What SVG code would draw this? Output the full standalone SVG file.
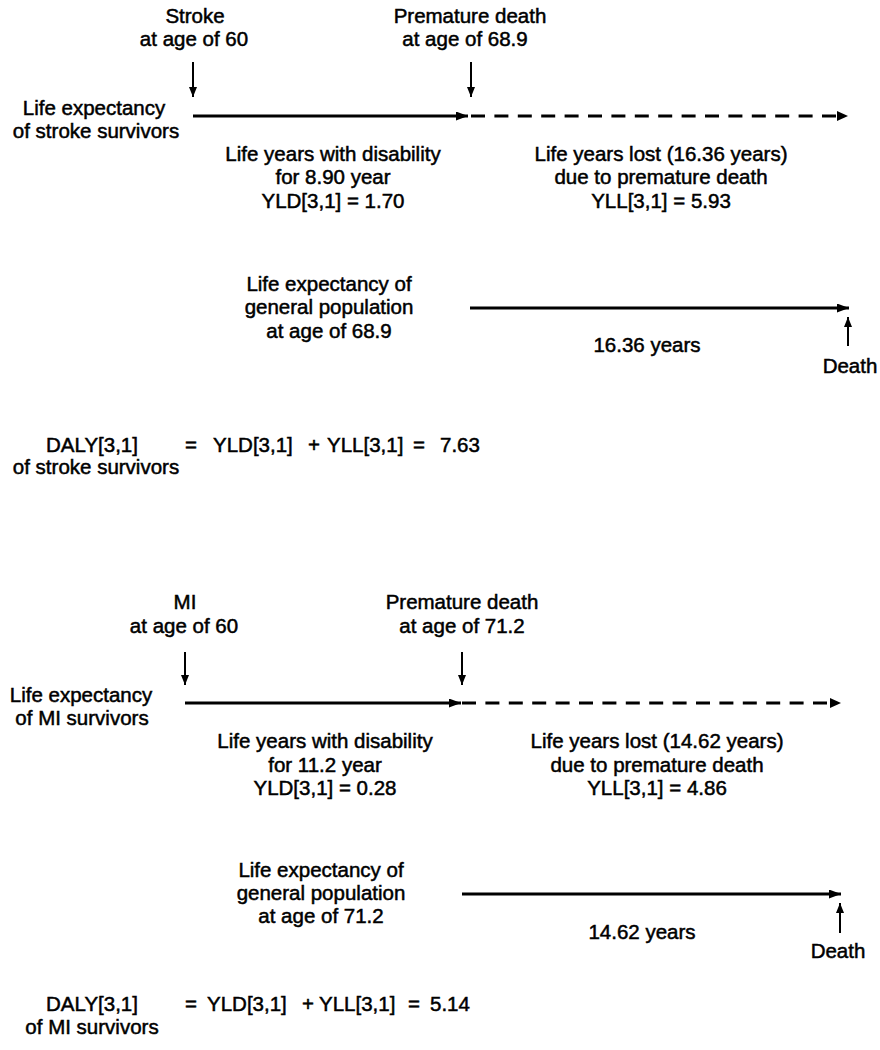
<svg xmlns="http://www.w3.org/2000/svg" width="880" height="1050" viewBox="0 0 880 1050">
  <defs>
    <style>
      text { font-family: "Liberation Sans", Arial, sans-serif; font-size: 20.5px; fill: #000; stroke: #000; stroke-width: 0.5px; }
      .c { text-anchor: middle; }
      .s { text-anchor: start; }
      .solid { stroke: #000; stroke-width: 3; fill: none; }
      .thin { stroke: #000; stroke-width: 2; fill: none; }
      .dash { stroke: #000; stroke-width: 3; fill: none; stroke-dasharray: 14 9.4; }
    </style>
    <marker id="head" markerUnits="userSpaceOnUse" markerWidth="13" markerHeight="10" refX="12" refY="4.5" orient="auto">
      <path d="M0,0 L12,4.5 L0,9 z" fill="#000"/>
    </marker>
    <marker id="headSmall" markerUnits="userSpaceOnUse" markerWidth="11" markerHeight="9" refX="10" refY="4" orient="auto">
      <path d="M0,0 L10,4 L0,8 z" fill="#000"/>
    </marker>
    <marker id="dashHead" markerUnits="userSpaceOnUse" markerWidth="12" markerHeight="11" refX="0" refY="5" orient="auto">
      <path d="M0,0 L11,5 L0,10 z" fill="#000"/>
    </marker>
  </defs>
  <rect width="880" height="1050" fill="#fff"/>

  <g id="connectors">
    <!-- top section -->
    <line class="thin" x1="193" y1="62" x2="193" y2="97" marker-end="url(#headSmall)"/>
    <line class="thin" x1="471" y1="62" x2="471" y2="97" marker-end="url(#headSmall)"/>
    <line class="solid" x1="193" y1="116" x2="468" y2="116" marker-end="url(#head)"/>
    <line class="dash" x1="471" y1="116" x2="837" y2="116" marker-end="url(#dashHead)"/>
    <line class="solid" x1="470" y1="308" x2="849" y2="308" marker-end="url(#head)"/>
    <line class="thin" x1="848" y1="346" x2="848" y2="317" marker-end="url(#headSmall)"/>
    <!-- bottom section -->
    <line class="thin" x1="185" y1="652" x2="185" y2="685" marker-end="url(#headSmall)"/>
    <line class="thin" x1="462" y1="652" x2="462" y2="685" marker-end="url(#headSmall)"/>
    <line class="solid" x1="185" y1="703" x2="461" y2="703" marker-end="url(#head)"/>
    <line class="dash" x1="462" y1="703" x2="830" y2="703" marker-end="url(#dashHead)"/>
    <line class="solid" x1="462" y1="894" x2="841" y2="894" marker-end="url(#head)"/>
    <line class="thin" x1="840" y1="933" x2="840" y2="903" marker-end="url(#headSmall)"/>
  </g>

  <!-- Top section: stroke -->
  <g id="stroke-event">
    <text class="c" x="195" y="23">Stroke</text>
    <text class="c" x="194" y="46">at age of 60</text>
  </g>
  <g id="premature-death-stroke">
    <text class="c" x="470" y="23">Premature death</text>
    <text class="c" x="465" y="46">at age of 68.9</text>
  </g>
  <g id="stroke-survivors-label">
    <text class="c" x="94" y="115">Life expectancy</text>
    <text class="c" x="96" y="138">of stroke survivors</text>
  </g>
  <g id="yld-stroke">
    <text class="c" x="333" y="161">Life years with disability</text>
    <text class="c" x="333" y="184">for 8.90 year</text>
    <text class="c" x="333" y="208">YLD[3,1] = 1.70</text>
  </g>
  <g id="yll-stroke">
    <text class="c" x="661" y="161">Life years lost (16.36 years)</text>
    <text class="c" x="661" y="184">due to premature death</text>
    <text class="c" x="661" y="208">YLL[3,1] = 5.93</text>
  </g>
  <g id="general-population-stroke">
    <text class="c" x="329" y="291">Life expectancy of</text>
    <text class="c" x="329" y="314">general population</text>
    <text class="c" x="329" y="338">at age of 68.9</text>
  </g>
  <g id="years-stroke">
    <text class="c" x="647" y="352">16.36 years</text>
  </g>
  <g id="death-stroke">
    <text class="c" x="850" y="373">Death</text>
  </g>
  <g id="daly-stroke">
    <text class="c" x="92" y="452">DALY[3,1]</text>
    <text class="c" x="96" y="474">of stroke survivors</text>
    <text class="c" x="191" y="452">=</text>
    <text class="s" x="213" y="452">YLD[3,1]</text>
    <text class="c" x="314" y="452">+</text>
    <text class="s" x="327" y="452">YLL[3,1]</text>
    <text class="c" x="419" y="452">=</text>
    <text class="s" x="440" y="452">7.63</text>
  </g>

  <!-- Bottom section: MI -->
  <g id="mi-event">
    <text class="c" x="185" y="609">MI</text>
    <text class="c" x="184" y="633">at age of 60</text>
  </g>
  <g id="premature-death-mi">
    <text class="c" x="462" y="609">Premature death</text>
    <text class="c" x="462" y="633">at age of 71.2</text>
  </g>
  <g id="mi-survivors-label">
    <text class="c" x="81" y="702">Life expectancy</text>
    <text class="c" x="82" y="725">of MI survivors</text>
  </g>
  <g id="yld-mi">
    <text class="c" x="325" y="748">Life years with disability</text>
    <text class="c" x="325" y="772">for 11.2 year</text>
    <text class="c" x="325" y="795">YLD[3,1] = 0.28</text>
  </g>
  <g id="yll-mi">
    <text class="c" x="657" y="748">Life years lost (14.62 years)</text>
    <text class="c" x="657" y="772">due to premature death</text>
    <text class="c" x="657" y="795">YLL[3,1] = 4.86</text>
  </g>
  <g id="general-population-mi">
    <text class="c" x="321" y="877">Life expectancy of</text>
    <text class="c" x="321" y="900">general population</text>
    <text class="c" x="321" y="923">at age of 71.2</text>
  </g>
  <g id="years-mi">
    <text class="c" x="642" y="939">14.62 years</text>
  </g>
  <g id="death-mi">
    <text class="c" x="838" y="958">Death</text>
  </g>
  <g id="daly-mi">
    <text class="c" x="92" y="1011">DALY[3,1]</text>
    <text class="c" x="92" y="1034">of MI survivors</text>
    <text class="c" x="191" y="1011">=</text>
    <text class="s" x="207" y="1011">YLD[3,1]</text>
    <text class="c" x="308" y="1011">+</text>
    <text class="s" x="319" y="1011">YLL[3,1]</text>
    <text class="c" x="414" y="1011">=</text>
    <text class="s" x="430" y="1011">5.14</text>
  </g>
</svg>
